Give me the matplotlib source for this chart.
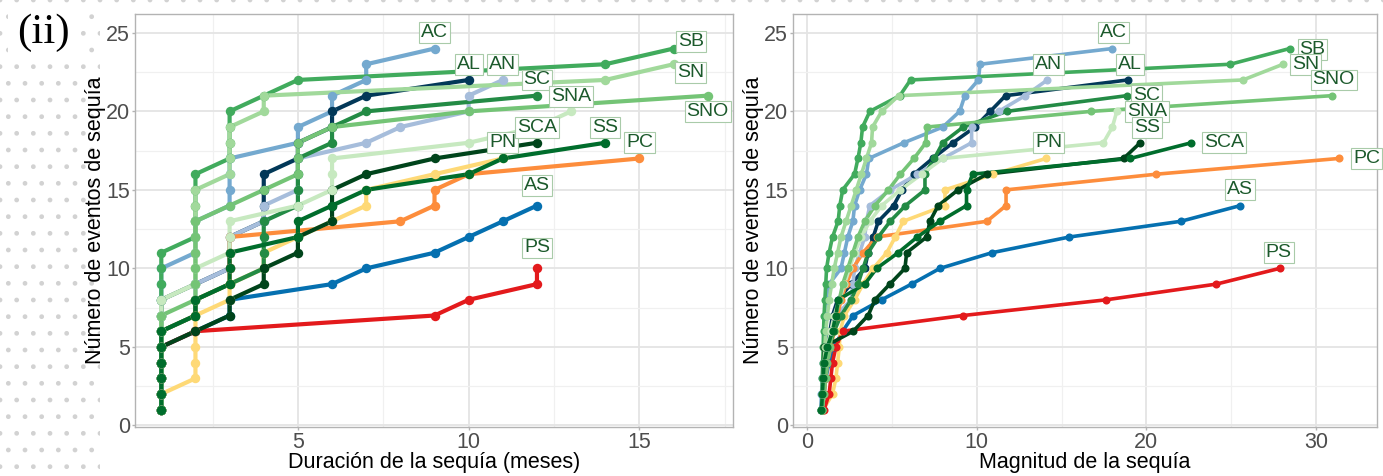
import matplotlib
matplotlib.use("Agg")
import matplotlib.pyplot as plt
from matplotlib.patches import Rectangle
from matplotlib.ticker import MultipleLocator

# series names (ggplot order) and colours
names = ["AC", "AL", "AN", "AS", "PC", "PN", "PS", "SB", "SC", "SCA", "SN", "SNA", "SNO", "SS"]
colors = ["#74a9cf", "#023858", "#a6bddb", "#0570b0", "#fd8d3c", "#fed976", "#e31a1c",
          "#41ab5d", "#238b45", "#00441b", "#a1d99b", "#c7e9c0", "#74c476", "#006d2c"]

# duracion de cada evento (meses), ordenada
dur_AC = [1, 1, 1, 1, 1, 1, 1, 1, 1, 1, 2, 2, 2, 3, 3, 3, 3, 5, 5, 6, 6, 7, 7, 9]
dur_AL = [1, 1, 1, 1, 1, 1, 1, 1, 2, 3, 3, 3, 4, 4, 4, 4, 5, 5, 6, 6, 7, 10]
dur_AN = [1, 1, 1, 1, 1, 1, 2, 2, 2, 3, 3, 3, 4, 4, 5, 5, 5, 7, 8, 10, 10, 11]
dur_AS = [1, 1, 1, 1, 1, 2, 3, 3, 6, 7, 9, 10, 11, 12]
dur_PC = [1, 1, 1, 1, 1, 1, 2, 2, 3, 3, 3, 3, 8, 9, 9, 10, 15]
dur_PN = [1, 1, 2, 2, 2, 2, 2, 3, 3, 4, 4, 5, 6, 7, 7, 9, 11]
dur_PS = [1, 1, 1, 1, 1, 2, 9, 10, 12, 12]
dur_SB = [1, 1, 1, 1, 1, 1, 1, 1, 1, 1, 1, 2, 2, 2, 2, 2, 3, 3, 3, 3, 4, 5, 14, 16]
dur_SC = [1, 1, 1, 1, 1, 1, 2, 2, 3, 4, 4, 4, 4, 5, 5, 5, 5, 6, 6, 7, 12]
dur_SCA = [1, 1, 1, 1, 1, 2, 3, 3, 4, 4, 5, 5, 6, 6, 6, 7, 9, 12]
dur_SN = [1, 1, 1, 1, 1, 1, 1, 1, 2, 2, 2, 2, 2, 2, 2, 3, 3, 3, 3, 4, 4, 14, 16]
dur_SNA = [1, 1, 1, 1, 1, 1, 1, 1, 2, 2, 3, 3, 3, 5, 6, 6, 6, 10, 12, 13]
dur_SNO = [1, 1, 1, 1, 1, 1, 1, 2, 2, 2, 2, 2, 2, 3, 4, 5, 5, 5, 6, 10, 17]
dur_SS = [1, 1, 1, 1, 1, 1, 2, 2, 3, 3, 3, 5, 5, 6, 7, 10, 11, 14]

# magnitud de cada evento, ordenada
mag_AC = [0.8, 0.85, 0.9, 0.95, 1.0, 1.05, 1.1, 1.2, 1.3, 2.0, 2.2, 2.4, 2.7, 2.8, 3.1, 3.5,
          3.64, 5.7, 8.0, 9.0, 9.3, 10.1, 10.2, 18.0]
mag_AL = [0.85, 0.9, 1.0, 1.1, 1.2, 1.35, 1.5, 1.8, 2.6, 3.4, 3.6, 3.9, 4.2, 5.1, 5.6, 6.3,
          7.4, 8.6, 9.9, 10.8, 11.7, 18.9]
mag_AN = [0.9, 0.95, 1.0, 1.1, 1.2, 1.4, 1.7, 2.6, 2.7, 2.8, 3.1, 3.4, 3.5, 3.7, 4.9, 6.5,
          8.0, 9.7, 9.7, 11.3, 12.85, 14.17]
mag_AS = [0.9, 1.0, 1.1, 1.3, 1.6, 2.1, 2.72, 4.39, 6.16, 7.83, 10.9, 15.47, 22.04, 25.54]
mag_PC = [0.9, 1.0, 1.1, 1.2, 1.4, 1.6, 1.8, 2.0, 2.3, 2.7, 3.3, 4.1, 10.6, 11.73, 11.73,
          20.6, 31.35]
mag_PN = [0.95, 1.5, 1.7, 1.8, 1.9, 1.95, 2.2, 2.8, 3.3, 3.9, 4.7, 5.2, 5.67, 8.13, 8.13,
          10.98, 14.09]
mag_PS = [1.0, 1.3, 1.4, 1.5, 1.7, 2.1, 9.2, 17.63, 24.13, 27.86]
mag_SB = [0.85, 0.88, 0.9, 0.92, 0.95, 0.97, 1.0, 1.05, 1.1, 1.15, 1.3, 1.5, 1.83, 1.93, 2.1,
          2.8, 3.0, 3.17, 3.27, 3.7, 5.47, 6.1, 24.95, 28.45]
mag_SC = [0.9, 0.95, 1.0, 1.1, 1.3, 1.6, 2.0, 2.6, 3.0, 3.3, 3.6, 4.2, 4.9, 5.8, 6.95, 6.95,
          7.5, 8.0, 9.2, 11.77, 18.85]
mag_SCA = [0.9, 0.92, 0.95, 0.97, 1.0, 2.72, 3.6, 4.0, 4.88, 5.77, 5.87, 7.05, 7.24, 7.73,
           8.9, 10.6, 18.66, 19.64]
mag_SN = [0.85, 0.9, 0.95, 1.0, 1.05, 1.1, 1.2, 1.3, 1.45, 1.6, 1.8, 2.0, 2.3, 2.6, 2.9, 3.2,
          3.5, 3.8, 3.86, 4.4, 5.4, 25.7, 28.06]
mag_SNA = [0.9, 0.95, 1.0, 1.1, 1.2, 1.4, 1.6, 1.9, 2.2, 2.5, 2.8, 3.2, 3.7, 4.4, 5.5, 6.75,
           8.0, 17.47, 18.0, 18.26]
mag_SNO = [0.9, 1.0, 1.1, 1.2, 1.35, 1.5, 1.7, 1.9, 2.1, 2.4, 2.7, 3.0, 3.4, 4.0, 4.8, 5.5,
           6.3, 7.0, 7.05, 16.75, 30.96]
mag_SS = [0.85, 0.9, 0.95, 1.0, 1.2, 1.5, 1.7, 1.83, 3.4, 4.1, 5.37, 6.5, 7.83, 9.4, 9.4,
          9.76, 19.05, 22.65]

dur = [dur_AC, dur_AL, dur_AN, dur_AS, dur_PC, dur_PN, dur_PS, dur_SB, dur_SC, dur_SCA,
       dur_SN, dur_SNA, dur_SNO, dur_SS]
mag = [mag_AC, mag_AL, mag_AN, mag_AS, mag_PC, mag_PN, mag_PS, mag_SB, mag_SC, mag_SCA,
       mag_SN, mag_SNA, mag_SNO, mag_SS]

# where the repelled labels sit (data coords)
lab_left = {"AC": (9.0, 25.0), "AL": (10.0, 23.0), "AN": (11.0, 23.0), "SB": (16.5, 24.45),
            "SN": (16.5, 22.5), "SC": (12.0, 22.0), "SNA": (13.0, 20.95), "SNO": (17.0, 20.0),
            "PN": (11.0, 18.0), "SCA": (12.0, 19.0), "SS": (14.0, 19.0), "PC": (15.0, 18.0),
            "AS": (12.0, 15.3), "PS": (12.0, 11.3)}
lab_right = {"AC": (18.06, 25.0), "AL": (19.05, 23.0), "AN": (14.23, 23.0), "SB": (29.8, 23.96),
             "SN": (29.4, 23.0), "SNO": (31.05, 22.0), "SC": (20.03, 21.0), "SNA": (20.03, 20.0),
             "SS": (20.03, 19.0), "SCA": (24.56, 18.0), "PC": (33.0, 17.0), "AS": (25.54, 15.0),
             "PS": (27.8, 11.0), "PN": (14.23, 18.0)}

plt.rcParams["font.family"] = ["Liberation Sans", "DejaVu Sans"]

W, H = 1383, 476
fig = plt.figure(figsize=(W / 100, H / 100), dpi=100)

# dotted page background at the left and top (kept under everything else)
for (x0, y0, w, h) in [(0, 0, 100 / W, 1), (0, 1 - 7 / H, 1, 7 / H)]:
    fig.patches.append(Rectangle((x0, y0), w, h, transform=fig.transFigure, facecolor="white",
                                 edgecolor="#d2d2d2", hatch=".", lw=0, zorder=-5))

axL = fig.add_axes([135 / W, 1 - 427 / H, (733 - 135) / W, (427 - 14) / H])
axR = fig.add_axes([793 / W, 1 - 427 / H, (1377 - 793) / W, (427 - 14) / H])


def style(ax, xlim, xmaj, xlabel, ylab_x):
    ax.set_xlim(*xlim)
    ax.set_ylim(-0.1, 26.2)
    ax.xaxis.set_major_locator(MultipleLocator(xmaj))
    ax.xaxis.set_minor_locator(MultipleLocator(xmaj / 2))
    ax.yaxis.set_major_locator(MultipleLocator(5))
    ax.yaxis.set_minor_locator(MultipleLocator(2.5))
    ax.grid(which="major", color="#e4e4e4", lw=1.3)
    ax.grid(which="minor", color="#f0f0f0", lw=0.9)
    ax.set_axisbelow(True)
    for s in ax.spines.values():
        s.set_color("#b3b3b3")
        s.set_linewidth(1.0)
    ax.tick_params(which="major", length=2.5, width=1, color="#b3b3b3", labelsize=15.5,
                   labelcolor="#4d4d4d", pad=1)
    ax.tick_params(which="minor", length=0)
    ax.set_xlabel(xlabel, fontsize=15.5)
    ax.set_ylabel("Número de eventos de sequía", fontsize=15.5)
    ax.xaxis.set_label_coords(0.5, -0.061)
    ax.yaxis.set_label_coords(ylab_x, 0.5)


style(axL, (0.23, 17.74), 5, "Duración de la sequía (meses)", -0.048)
style(axR, (-0.83, 33.6), 10, "Magnitud de la sequía", -0.049)

for ax, xs, labs, lw, ms in [(axL, dur, lab_left, 3.0, 6.8), (axR, mag, lab_right, 2.6, 5.8)]:
    for vals, c in zip(xs, colors):
        ax.plot(vals, range(1, len(vals) + 1), color=c, lw=lw, zorder=2, solid_capstyle="round")
    for vals, c in zip(xs, colors):
        ax.plot(vals, range(1, len(vals) + 1), ls="none", marker="o", ms=ms, mec="none",
                color=c, zorder=3)
    for n in names:
        lx, ly = labs[n]
        ax.text(lx, ly, n, ha="center", va="center", fontsize=14, color="#1c5a2c", zorder=5,
                bbox=dict(boxstyle="square,pad=0.1", fc="white", ec="#a9cba9", lw=0.8))

fig.text(43 / W, 1 - 33 / H, "(ii)", family="Liberation Serif", fontsize=31, ha="center",
         va="center", bbox=dict(boxstyle="square,pad=0.2", fc="white", ec="none"))

fig.savefig("out.png", dpi=100)
